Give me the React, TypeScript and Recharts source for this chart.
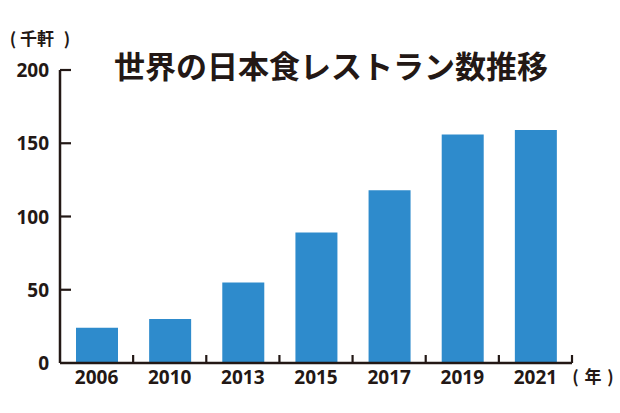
import { BarChart, Bar, XAxis, YAxis } from 'recharts';

const years = ['2006', '2010', '2013', '2015', '2017', '2019', '2021'];
const restaurants = [24, 30, 55, 89, 118, 156, 159];
const yTicks = [0, 50, 100, 150, 200];

const data = years.map((year, i) => ({ year, count: restaurants[i] }));

const INK = '#231815';
const NUM_FONT = '"Open Sans", "DejaVu Sans", sans-serif';
const JP_FONT = '"Noto Sans CJK JP", "Noto Sans", sans-serif';

const WIDTH = 620;
const HEIGHT = 413;
const MARGIN = { top: 70, right: 48, bottom: 20, left: 0 };
const X_AXIS_H = 30;
const Y_AXIS_W = 60;
const PLOT_W = WIDTH - MARGIN.left - MARGIN.right - Y_AXIS_W;
const BAND = PLOT_W / years.length;

function YTick(props: any) {
  const { x, y, payload } = props;
  const axisX = x + 11;
  return (
    <g>
      {payload.value !== 0 && (
        <line x1={axisX} x2={axisX + 11} y1={y} y2={y} stroke={INK} strokeWidth={2.2} />
      )}
      <text
        x={x}
        y={y}
        textAnchor="end"
        dominantBaseline="central"
        fill={INK}
        fontFamily={NUM_FONT}
        fontWeight={700}
        fontSize={19}
      >
        {payload.value}
      </text>
    </g>
  );
}

function XTick(props: any) {
  const { x, y, payload } = props;
  const axisY = y - 6;
  const edge = x + BAND / 2;
  return (
    <g>
      <line x1={edge} x2={edge} y1={axisY} y2={axisY - 8} stroke={INK} strokeWidth={2.2} />
      <text
        x={x}
        y={axisY + 14}
        textAnchor="middle"
        dominantBaseline="central"
        fill={INK}
        fontFamily={NUM_FONT}
        fontWeight={700}
        fontSize={19}
      >
        {payload.value}
      </text>
    </g>
  );
}

// unit label in "( text )" form, pieces placed by centre x
function Unit({ parts, y }: { parts: [string, number][]; y: number }) {
  return (
    <g>
      {parts.map(([s, cx], i) => (
        <text
          key={i}
          x={cx}
          y={y}
          textAnchor="middle"
          dominantBaseline="central"
          fill={INK}
          fontFamily={JP_FONT}
          fontWeight={700}
          fontSize={17}
        >
          {s}
        </text>
      ))}
    </g>
  );
}

export default function App() {
  return (
    <div style={{ position: 'absolute', left: 0, top: 0, width: WIDTH, height: HEIGHT, background: '#fff' }}>
      <BarChart width={WIDTH} height={HEIGHT} data={data} margin={MARGIN} barSize={42}>
        <XAxis
          dataKey="year"
          height={X_AXIS_H}
          axisLine={{ stroke: INK, strokeWidth: 2.5 }}
          tickLine={false}
          tickSize={0}
          tickMargin={6}
          tick={<XTick />}
          interval={0}
        />
        <YAxis
          width={Y_AXIS_W}
          domain={[0, 200]}
          ticks={yTicks}
          axisLine={{ stroke: INK, strokeWidth: 2.5 }}
          tickLine={false}
          tickSize={0}
          tickMargin={11}
          tick={<YTick />}
          interval={0}
        />
        <Bar dataKey="count" fill="#2e8bcc" isAnimationActive={false} />
        <text
          x={331}
          y={64}
          textAnchor="middle"
          dominantBaseline="central"
          fill={INK}
          fontFamily={JP_FONT}
          fontWeight={700}
          fontSize={31}
        >
          世界の日本食レストラン数推移
        </text>
        <Unit parts={[['(', 13], ['千軒', 37], [')', 67]]} y={37.5} />
        <Unit parts={[['(', 575.5], ['年', 593], [')', 610.5]]} y={375.5} />
      </BarChart>
    </div>
  );
}
